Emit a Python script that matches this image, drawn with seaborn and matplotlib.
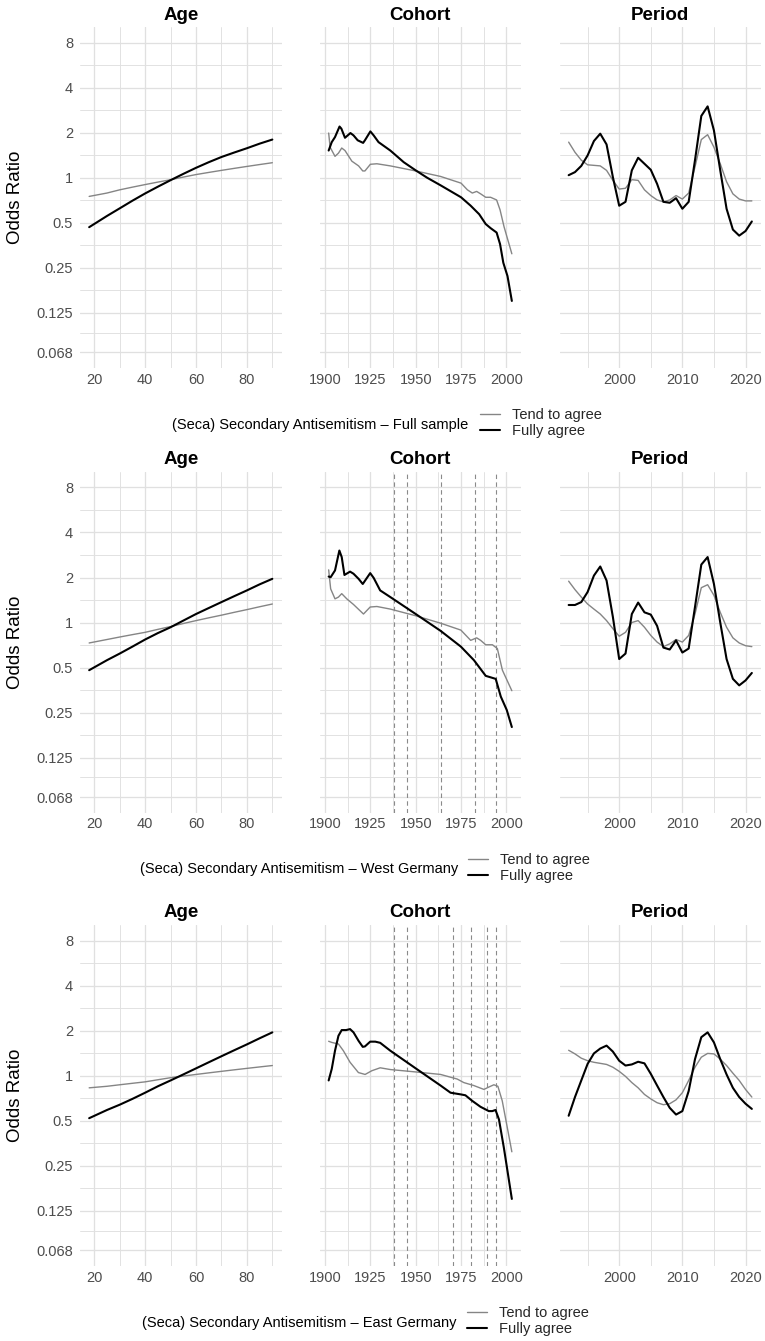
import numpy as np
import pandas as pd
import matplotlib
matplotlib.use("Agg")
import matplotlib.pyplot as plt
from matplotlib.ticker import FixedLocator, NullFormatter
import seaborn as sns

# ---------------- data ----------------
samples = ["Full sample", "West Germany", "East Germany"]
responses = ["Tend to agree", "Fully agree"]

age_x = [18, 25, 30, 35, 40, 45, 50, 55, 60, 65, 70, 75, 80, 85, 90]
period_x = list(range(1992, 2022))

# Full sample
full_age_tend = [0.75, 0.79, 0.83, 0.865, 0.90, 0.935, 0.97, 1.01, 1.05, 1.085, 1.12, 1.155, 1.19, 1.225, 1.26]
full_age_fully = [0.467, 0.555, 0.624, 0.702, 0.785, 0.871, 0.963, 1.061, 1.165, 1.27, 1.376, 1.474, 1.575, 1.69, 1.80]
full_coh_tend_x = [1902, 1902.8, 1905.5, 1907.4, 1909.2, 1911, 1914.8, 1918.5, 1920.8, 1922, 1925, 1928.6,
                   1936, 1950, 1963.7, 1975, 1978.5, 1981.2, 1983.6, 1985.8, 1988.6, 1991.3, 1994.6,
                   1996.5, 1998.7, 2003]
full_coh_tend = [1.99, 1.60, 1.39, 1.46, 1.58, 1.52, 1.29, 1.20, 1.11, 1.11, 1.23, 1.24,
                 1.20, 1.11, 1.02, 0.92, 0.83, 0.79, 0.81, 0.78, 0.74, 0.74, 0.71,
                 0.61, 0.47, 0.31]
full_coh_fully_x = [1902, 1903.7, 1905.5, 1908, 1909, 1911, 1914, 1915.7, 1918, 1921, 1922, 1925, 1926.8,
                    1929.5, 1936, 1943.4, 1950, 1956.3, 1963.7, 1971, 1975, 1980.3, 1985, 1988.6,
                    1991.3, 1994.6, 1996.5, 1998.3, 2000.6, 2003]
full_coh_fully = [1.52, 1.73, 1.87, 2.20, 2.13, 1.85, 1.99, 1.92, 1.78, 1.71, 1.78, 2.04, 1.92,
                  1.73, 1.52, 1.27, 1.12, 1.00, 0.89, 0.79, 0.74, 0.65, 0.57, 0.49,
                  0.46, 0.43, 0.36, 0.27, 0.22, 0.15]
full_per_tend = [1.73, 1.48, 1.31, 1.22, 1.21, 1.20, 1.12, 0.96, 0.84, 0.85, 0.97, 0.96, 0.83, 0.76, 0.71,
                 0.69, 0.71, 0.76, 0.72, 0.79, 1.18, 1.80, 1.94, 1.60, 1.24, 0.94, 0.78, 0.72, 0.70, 0.70]
full_per_fully = [1.04, 1.09, 1.20, 1.41, 1.76, 1.97, 1.67, 1.01, 0.65, 0.69, 1.12, 1.36, 1.24, 1.13, 0.91,
                  0.69, 0.68, 0.73, 0.62, 0.69, 1.31, 2.59, 3.00, 2.07, 1.12, 0.62, 0.45, 0.41, 0.44, 0.51]

# West Germany
west_age_tend = [0.73, 0.77, 0.80, 0.83, 0.86, 0.90, 0.94, 0.985, 1.03, 1.075, 1.12, 1.17, 1.22, 1.275, 1.33]
west_age_fully = [0.48, 0.56, 0.62, 0.69, 0.77, 0.85, 0.93, 1.03, 1.14, 1.25, 1.37, 1.50, 1.64, 1.80, 1.96]
west_coh_tend_x = [1902, 1903.1, 1905.5, 1907.4, 1909.2, 1912, 1915.7, 1921.2, 1924.9, 1928.6, 1936, 1950,
                   1963.7, 1974.9, 1980.3, 1983.6, 1985.8, 1988.6, 1992.3, 1995, 1997.8, 2003]
west_coh_tend = [2.25, 1.68, 1.44, 1.48, 1.56, 1.44, 1.32, 1.14, 1.27, 1.28, 1.23, 1.11,
                 0.99, 0.89, 0.76, 0.79, 0.76, 0.71, 0.71, 0.67, 0.48, 0.35]
west_coh_fully_x = [1902, 1903.1, 1905.5, 1907.9, 1909.2, 1910.7, 1913.8, 1915.7, 1918.5, 1920.8, 1924.9,
                    1926.8, 1930.4, 1936, 1950, 1963.7, 1974.9, 1982.1, 1988.6, 1994.1, 1996.9, 2000.2, 2003]
west_coh_fully = [2.03, 2.01, 2.23, 3.03, 2.74, 2.08, 2.19, 2.12, 1.96, 1.81, 2.14,
                  1.99, 1.64, 1.48, 1.14, 0.88, 0.69, 0.56, 0.44, 0.42, 0.32, 0.26, 0.20]
west_per_tend = [1.89, 1.66, 1.48, 1.33, 1.23, 1.14, 1.03, 0.91, 0.81, 0.86, 1.00, 1.03, 0.93, 0.82, 0.74,
                 0.69, 0.72, 0.77, 0.74, 0.82, 1.14, 1.71, 1.79, 1.52, 1.17, 0.93, 0.79, 0.73, 0.70, 0.69]
west_per_fully = [1.31, 1.31, 1.37, 1.60, 2.06, 2.37, 1.91, 1.09, 0.57, 0.62, 1.14, 1.36, 1.17, 1.13, 0.95,
                  0.68, 0.66, 0.76, 0.63, 0.67, 1.27, 2.44, 2.74, 1.81, 1.00, 0.57, 0.42, 0.38, 0.41, 0.46]
west_events = [1938, 1945, 1964, 1982.5, 1994.5]

# East Germany
east_age_tend = [0.83, 0.85, 0.87, 0.89, 0.91, 0.94, 0.97, 0.995, 1.02, 1.045, 1.07, 1.095, 1.12, 1.145, 1.17]
east_age_fully = [0.52, 0.59, 0.64, 0.70, 0.77, 0.85, 0.93, 1.02, 1.12, 1.23, 1.35, 1.48, 1.62, 1.78, 1.95]
east_coh_tend_x = [1902, 1903.7, 1907.4, 1910.1, 1913.8, 1918.4, 1922.1, 1925.8, 1930.4, 1936, 1950, 1963.7,
                   1972.9, 1976.5, 1982, 1987.6, 1990.3, 1993.1, 1995.3, 1997.7, 2000.5, 2003]
east_coh_tend = [1.70, 1.67, 1.63, 1.47, 1.23, 1.05, 1.02, 1.08, 1.13, 1.10, 1.06, 1.02,
                 0.95, 0.90, 0.86, 0.81, 0.84, 0.87, 0.85, 0.68, 0.45, 0.31]
east_coh_fully_x = [1902, 1903.7, 1905.5, 1907.4, 1909.2, 1911.6, 1913.8, 1915.7, 1918.5, 1920.8, 1922,
                    1924.9, 1927.7, 1930.4, 1936, 1950, 1963.7, 1969.2, 1974.9, 1977.4, 1981.1, 1985.7,
                    1990.3, 1992.2, 1994, 1995.9, 1998.6, 2003]
east_coh_fully = [0.93, 1.11, 1.47, 1.85, 2.02, 2.02, 2.05, 1.95, 1.71, 1.56, 1.57,
                  1.69, 1.69, 1.66, 1.47, 1.12, 0.86, 0.77, 0.75, 0.74, 0.68, 0.62,
                  0.58, 0.58, 0.59, 0.51, 0.33, 0.15]
east_per_tend = [1.48, 1.40, 1.31, 1.26, 1.23, 1.21, 1.19, 1.14, 1.07, 0.99, 0.90, 0.83, 0.75, 0.70, 0.66,
                 0.64, 0.65, 0.69, 0.77, 0.93, 1.14, 1.33, 1.41, 1.40, 1.29, 1.17, 1.04, 0.93, 0.81, 0.72]
east_per_fully = [0.54, 0.72, 0.93, 1.20, 1.41, 1.52, 1.59, 1.45, 1.26, 1.17, 1.19, 1.24, 1.21, 1.03, 0.86,
                  0.72, 0.61, 0.55, 0.58, 0.79, 1.29, 1.81, 1.95, 1.67, 1.29, 1.02, 0.83, 0.72, 0.65, 0.60]
east_events = [1938, 1945, 1970.5, 1980.5, 1989.5, 1994.5]

y_breaks = [0.068, 0.125, 0.25, 0.5, 1, 2, 4, 8]
y_labels = ["0.068", "0.125", "0.25", "0.5", "1", "2", "4", "8"]

# ---------------- layout ----------------
W, H = 765, 1341
sns.set_theme(style="white")
plt.rcParams["font.family"] = ["Liberation Sans", "DejaVu Sans"]

fig = plt.figure(figsize=(W / 100, H / 100), dpi=100)
fig.patch.set_facecolor("white")


def rect(left, top, width, height):
    return [left / W, 1 - (top + height) / H, width / W, height / H]


def fy(y):
    return 1 - y / H


COL = {"Tend to agree": "#858585", "Fully agree": "#000000"}
LW = {"Tend to agree": 1.0, "Fully agree": 1.5}
GRID = "#E0E0E0"

panel_left = [80, 319.5, 559.5]
panel_w = 201.5
row_top = [27.2, 472.0, 925.2]
row_h = 340.6
title_y = [15, 459.3, 912.7]
legend_y = [423, 868, 1321]
caption_right = [468, 458, 456]
key_left = [480, 468, 467]
captions = ["(Seca) Secondary Antisemitism \u2013 Full sample",
            "(Seca) Secondary Antisemitism \u2013 West Germany",
            "(Seca) Secondary Antisemitism \u2013 East Germany"]

rows = [
    dict(age=(full_age_tend, full_age_fully),
         coh=((full_coh_tend_x, full_coh_tend), (full_coh_fully_x, full_coh_fully)),
         per=(full_per_tend, full_per_fully), events=[]),
    dict(age=(west_age_tend, west_age_fully),
         coh=((west_coh_tend_x, west_coh_tend), (west_coh_fully_x, west_coh_fully)),
         per=(west_per_tend, west_per_fully), events=west_events),
    dict(age=(east_age_tend, east_age_fully),
         coh=((east_coh_tend_x, east_coh_tend), (east_coh_fully_x, east_coh_fully)),
         per=(east_per_tend, east_per_fully), events=east_events),
]

pad = 2 ** (0.05 * (np.log2(8) - np.log2(0.068)))
ylim = (0.068 / pad, 8 * pad)
y_minor = [np.sqrt(a * b) for a, b in zip(y_breaks[:-1], y_breaks[1:])]

xspec = {
    "Age": dict(lim=(14.4, 93.6), major=[20, 40, 60, 80], minor=[30, 50, 70, 90]),
    "Cohort": dict(lim=(1896.95, 2008.05), major=[1900, 1925, 1950, 1975, 2000],
                   minor=[1912.5, 1937.5, 1962.5, 1987.5]),
    "Period": dict(lim=(1990.55, 2022.45), major=[2000, 2010, 2020], minor=[1995, 2005, 2015]),
}


def style_axis(ax, name, show_y):
    ax.set_yscale("log", base=2)
    ax.set_ylim(*ylim)
    spec = xspec[name]
    ax.set_xlim(*spec["lim"])
    ax.xaxis.set_major_locator(FixedLocator(spec["major"]))
    ax.xaxis.set_minor_locator(FixedLocator(spec["minor"]))
    ax.xaxis.set_minor_formatter(NullFormatter())
    ax.set_xticklabels([str(v) for v in spec["major"]])
    ax.yaxis.set_major_locator(FixedLocator(y_breaks))
    ax.yaxis.set_minor_locator(FixedLocator(y_minor))
    ax.yaxis.set_minor_formatter(NullFormatter())
    if show_y:
        ax.set_yticklabels(y_labels)
    else:
        ax.set_yticklabels([])
    ax.grid(which="major", color=GRID, lw=0.95)
    ax.grid(which="minor", color=GRID, lw=0.65)
    ax.set_axisbelow(True)
    for s in ax.spines.values():
        s.set_visible(False)
    ax.tick_params(which="both", length=0, labelsize=10.5, labelcolor="#4D4D4D")
    ax.tick_params(axis="x", pad=3.5)
    ax.tick_params(axis="y", pad=5)
    ax.set_xlabel("")
    ax.set_ylabel("")
    ax.set_facecolor("white")


handles = None
for r, row in enumerate(rows):
    for c, name in enumerate(["Age", "Cohort", "Period"]):
        ax = fig.add_axes(rect(panel_left[c], row_top[r], panel_w, row_h))
        if name == "Age":
            series = [(age_x, row["age"][0]), (age_x, row["age"][1])]
        elif name == "Cohort":
            series = list(row["coh"])
        else:
            series = [(period_x, row["per"][0]), (period_x, row["per"][1])]
        if name == "Cohort":
            for ev in row["events"]:
                ax.axvline(ev, color="#8A8A8A", lw=0.8, ls=(0, (4, 3)), zorder=1.5)
        for resp, (xs, ys) in zip(responses, series):
            df = pd.DataFrame({"x": xs, "y": ys})
            sns.lineplot(data=df, x="x", y="y", ax=ax, color=COL[resp], lw=LW[resp],
                         label=resp, estimator=None, sort=False, zorder=3)
        if handles is None:
            handles, labels = ax.get_legend_handles_labels()
        leg = ax.get_legend()
        if leg is not None:
            leg.remove()
        style_axis(ax, name, show_y=(c == 0))
        fig.text((panel_left[c] + panel_w / 2) / W, fy(title_y[r]), name, ha="center", va="center",
                 fontsize=13.5, fontweight="bold", color="black")
    fig.text(15.5 / W, fy(row_top[r] + row_h / 2), "Odds Ratio", rotation=90, ha="center", va="center",
             fontsize=13.5, color="black")
    fig.text(caption_right[r] / W, fy(legend_y[r] + 1.5), captions[r], ha="right", va="center",
             fontsize=10.5, color="black")
    fig.legend(handles, labels, loc="center left",
               bbox_to_anchor=(key_left[r] / W, fy(legend_y[r])), bbox_transform=fig.transFigure,
               frameon=False, fontsize=10.5, handlelength=1.4, handletextpad=0.8,
               labelspacing=0.15, borderpad=0, borderaxespad=0)

fig.savefig("out.png", dpi=100, facecolor="white")
